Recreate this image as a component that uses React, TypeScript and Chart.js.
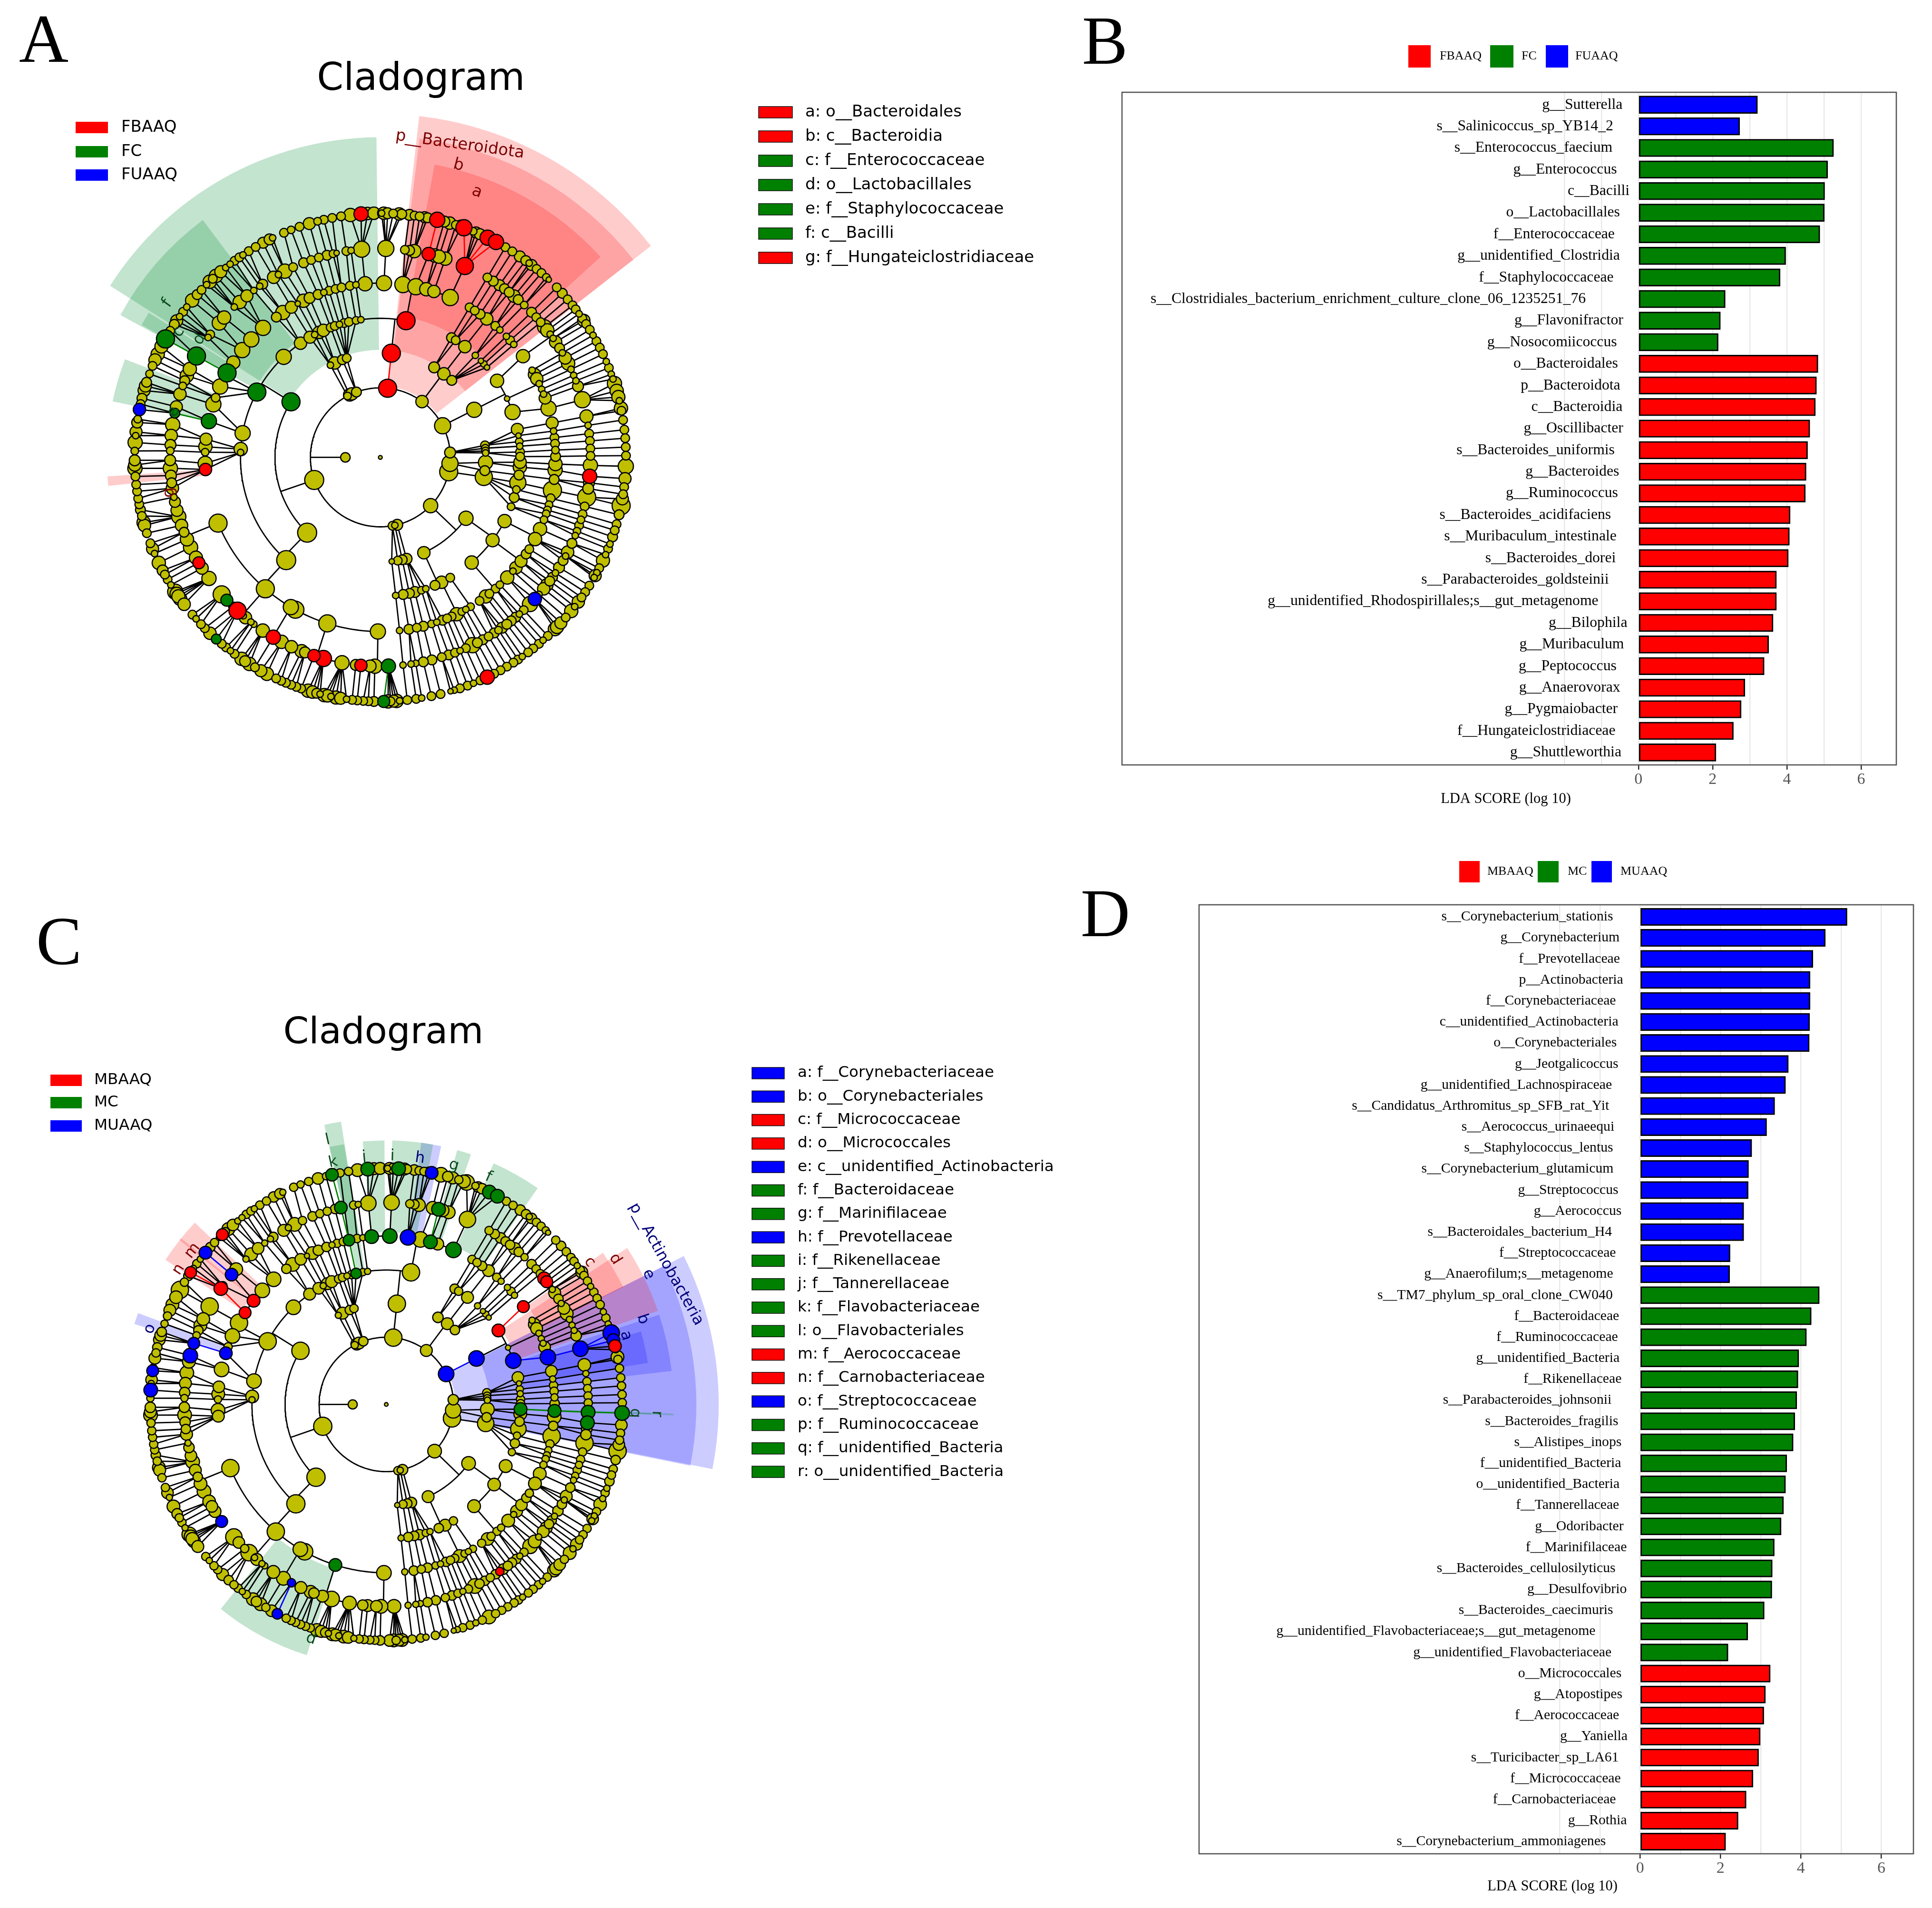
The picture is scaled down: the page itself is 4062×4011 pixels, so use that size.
import React, { useEffect, useRef } from "react";
import { Chart, registerables } from "chart.js";

Chart.register(...registerables);

// ---------- LDA bar data ----------
const bLabels = ["g__Sutterella","s__Salinicoccus_sp_YB14_2","s__Enterococcus_faecium","g__Enterococcus","c__Bacilli","o__Lactobacillales","f__Enterococcaceae","g__unidentified_Clostridia","f__Staphylococcaceae","s__Clostridiales_bacterium_enrichment_culture_clone_06_1235251_76","g__Flavonifractor","g__Nosocomiicoccus","o__Bacteroidales","p__Bacteroidota","c__Bacteroidia","g__Oscillibacter","s__Bacteroides_uniformis","g__Bacteroides","g__Ruminococcus","s__Bacteroides_acidifaciens","s__Muribaculum_intestinale","s__Bacteroides_dorei","s__Parabacteroides_goldsteinii","g__unidentified_Rhodospirillales;s__gut_metagenome","g__Bilophila","g__Muribaculum","g__Peptococcus","g__Anaerovorax","g__Pygmaiobacter","f__Hungateiclostridiaceae","g__Shuttleworthia"];
const bValues = [3.21,2.73,5.26,5.10,5.02,5.01,4.89,3.97,3.82,2.34,2.21,2.15,4.84,4.80,4.77,4.62,4.56,4.52,4.50,4.09,4.07,4.04,3.72,3.72,3.63,3.51,3.39,2.87,2.77,2.56,2.09];
const bGaps = [.43,.68,.70,.58,.24,.50,.64,.50,.67,1.42,.41,.58,.55,.49,.43,.41,.64,.52,.55,.74,.59,.61,.80,1.08,.30,.39,.59,.49,.56,.62,.46];
const bCounts = [2, 10, 19];
const bLegend = ["FBAAQ", "FC", "FUAAQ"];

const dLabels = ["s__Corynebacterium_stationis","g__Corynebacterium","f__Prevotellaceae","p__Actinobacteria","f__Corynebacteriaceae","c__unidentified_Actinobacteria","o__Corynebacteriales","g__Jeotgalicoccus","g__unidentified_Lachnospiraceae","s__Candidatus_Arthromitus_sp_SFB_rat_Yit","s__Aerococcus_urinaeequi","s__Staphylococcus_lentus","s__Corynebacterium_glutamicum","g__Streptococcus","g__Aerococcus","s__Bacteroidales_bacterium_H4","f__Streptococcaceae","g__Anaerofilum;s__metagenome","s__TM7_phylum_sp_oral_clone_CW040","f__Bacteroidaceae","f__Ruminococcaceae","g__unidentified_Bacteria","f__Rikenellaceae","s__Parabacteroides_johnsonii","s__Bacteroides_fragilis","s__Alistipes_inops","f__unidentified_Bacteria","o__unidentified_Bacteria","f__Tannerellaceae","g__Odoribacter","f__Marinifilaceae","s__Bacteroides_cellulosilyticus","g__Desulfovibrio","s__Bacteroides_caecimuris","g__unidentified_Flavobacteriaceae;s__gut_metagenome","g__unidentified_Flavobacteriaceae","o__Micrococcales","g__Atopostipes","f__Aerococcaceae","g__Yaniella","s__Turicibacter_sp_LA61","f__Micrococcaceae","f__Carnobacteriaceae","g__Rothia","s__Corynebacterium_ammoniagenes"];
const dValues = [5.15,4.61,4.30,4.23,4.23,4.22,4.21,3.69,3.62,3.35,3.15,2.78,2.70,2.69,2.58,2.58,2.24,2.23,4.46,4.26,4.14,3.95,3.93,3.90,3.85,3.81,3.65,3.62,3.57,3.51,3.34,3.29,3.28,3.09,2.68,2.19,3.24,3.12,3.08,2.99,2.95,2.81,2.64,2.44,2.13];
const dGaps = [.67,.51,.50,.42,.60,.54,.58,.54,.70,.77,.64,.67,.66,.54,.46,.70,.60,.67,.68,.52,.55,.51,.46,.71,.54,.46,.47,.51,.52,.41,.33,.61,.33,.67,1.11,.71,.46,.44,.52,.31,.53,.48,.60,.33,.85];
const dCounts = [18, 18, 9];
const dLegend = ["MBAAQ", "MC", "MUAAQ"];

// ---------- taxonomy tree: angle (deg clockwise from top), node radius ----------
const ring1 = [6,19, 36.6,13, 63,17, 86,10, 95,17, 102,19, 134,15, 166,10, 168,6, 170,8, 251,20, 332,7, 334,13, 336,13, 340,9];
const ring2 = [6,19, 30.7,10, 37.1,13, 42.7,9, 63,16, 83.4,8, 85,7, 86.5,7, 87.6,6, 92.8,15, 97.3,9, 100.8,18, 125.6,15, 155.6,13, 165.6,10, 168,9, 170.5,8, 173.8,5, 224,20, 302,19, 331.7,6, 334.4,13, 338.9,9, 341.4,8];
const ring3 = [10.6,19, 30.6,9, 32.6,8, 37.2,13, 42.8,6, 46,5, 47.8,6, 49.7,5, 56.6,14, 65,5, 71,16, 78.4,11, 81,5, 83.5,7, 85.4,6, 87.8,8, 89.7,8, 92,13, 94,14, 97.3,9, 100.5,17, 103.4,7, 106.8,9, 110.8,7, 117.3,14, 126.6,12, 139.2,14, 150,8, 154,13, 157,9, 161,6, 162.9,7, 165.7,10, 168,9, 170.6,9, 173.7,6, 222.3,20, 272,6, 273.4,14, 280,16, 298,19, 316.3,16, 325.2,13, 329.8,11, 332,6, 334,13, 336,13, 339.2,8, 341,8, 343,6, 345,8, 347,8, 350,7, 352,6];
const ring4 = [1.2,16, 7.4,17, 11.7,17, 15.2,14, 17.8,13, 23.5,17, 30.6,8, 32.6,8, 34.7,9, 37.4,13, 41,8, 43,6, 46,6, 47.8,8, 49.6,6, 54.5,14, 60,6, 61.6,13, 63.2,13, 65,6, 67,6, 68.7,6, 70.1,11, 73.7,16, 78.6,11, 81.3,6, 83.5,8, 85.5,8, 87.6,7, 89.7,9, 92.2,14, 94.2,15, 97.3,9, 100.9,19, 103.6,8, 105.8,7, 107.6,7, 108.9,7, 111,7, 114.3,14, 118,14, 121.8,8, 123.7,9, 126.6,11, 129.3,13, 130.8,6, 133.6,14, 137,7, 138.9,8, 141.5,8, 143,12, 145.5,8, 149,7, 150.8,6, 152.3,7, 154.2,14, 156,8, 157.6,8, 159.2,9, 161.2,6, 163,7, 165.8,9, 168,8, 170.6,9, 173.7,6, 180.8,16, 197.6,18, 209,18, 210.7,16, 221,19, 247.8,19, 266,13, 268,15, 271.7,7, 273.5,14, 276,11, 282,16, 287.7,16, 290,8, 294,16, 299,19, 303,12, 308,16, 312.6,16, 318,16, 323.6,9, 326.2,15, 329.5,11, 331.9,5, 334,14, 336.2,10, 339.2,9, 341.2,6, 343,8, 345.2,8, 347.2,8, 350,8, 352,6, 355,15];
const ring5 = [1.5,17, 6.7,8, 8,9, 9.3,14, 13.3,14, 15,14, 16.2,12, 18,14, 23.7,18, 30.6,8, 32.5,9, 34.5,10, 36.2,9, 37.8,9, 39.5,13, 41,9, 43.2,7, 46,9, 47.9,8, 49.7,8, 51.4,15, 52.6,14, 53.9,6, 55.3,6, 56.5,13, 58.5,9, 60,6, 61.6,13, 63.3,14, 65.1,6, 66.9,6, 68.5,6, 70.1,10, 74,17, 78.7,12, 81.2,6, 83.5,8, 85.5,8, 87.6,8, 89.6,8, 92.2,15, 95.2,15, 97,10, 98.6,10, 101,19, 103.6,8, 105.8,8, 107.4,7, 109,8, 110.7,7, 112,6, 114.3,9, 117,13, 118.2,6, 119.6,9, 121.8,10, 123.6,6, 125,9, 126.3,9, 127.6,13, 129,13, 131,6, 132.7,14, 134.6,16, 137,8, 138.6,6, 139.9,9, 141.5,9, 143,9, 144.6,10, 145.8,7, 147.2,9, 149,8, 150.8,9, 152.5,9, 154,16, 156,8, 157.7,6, 159.2,8, 161,9, 163,8, 165.8,9, 168.2,9, 170.3,6, 171.6,6, 173.8,6, 177.8,15, 181.5,15, 182.8,11, 185.3,13, 186.7,10, 190.5,15, 195.7,17, 198.4,13, 201,10, 202,12, 205,13, 208,14, 210.6,15, 214,14, 217,6, 218,6, 219.9,13, 220.7,6, 222.8,18, 224.5,8, 226.9,11, 229,18, 234.6,15, 238,13, 239.7,11, 241.3,12, 244.5,15, 246.9,14, 249,9, 251,13, 253.5,15, 255.3,11, 257.7,10, 259,6, 261.5,13, 263,9, 265,10, 267,15, 269.2,10, 271.8,7, 273.4,10, 276,13, 279,15, 282.2,14, 284,11, 287.6,13, 290,7, 291.5,9, 293,14, 295,14, 299,19, 305,6, 306,8, 310,15, 312,14, 316,6, 318,14, 320.6,11, 323,6, 325,6, 326,9, 329.5,13, 331,6, 333,15, 335.5,8, 338.6,9, 340.8,8, 343,8, 345.3,9, 347,7, 348,5, 350.7,8, 352,6, 354.9,17];
const ring6 = [6.8,10, 8,8, 9.2,8, 10.4,10, 11.1,9, 13.4,16, 15.1,10, 16.4,13, 17.9,8, 19.2,14, 19.9,17, 22.2,7, 22.9,10, 23.9,10, 25.9,16, 28.1,16, 30.6,8, 32.5,8, 34.6,10, 36.3,9, 37.3,6, 38,10, 39.5,8, 41,8, 42.5,7, 43.3,5, 45.9,8, 47.8,9, 49.7,8, 51.5,8, 52.7,8, 54,6, 55.3,8, 55.9,13, 56.9,8, 58.5,8, 60,6, 61.6,8, 63.3,8, 65,8, 66.9,6, 68.5,8, 70.1,6, 71.3,6, 72.4,15, 74.2,14, 75.7,12, 76.6,6, 78.4,14, 79,8, 81.2,8, 83.5,8, 85.5,8, 87.6,8, 89.6,8, 92.1,16, 95,11, 97,8, 98.7,8, 99.8,11, 101.4,19, 103.6,9, 105.9,8, 107.4,8, 109,9, 110.8,6, 112,8, 113.5,6, 115,12, 117,8, 118.2,6, 119,11, 119.5,6, 121.7,8, 123.5,8, 125,8, 126.3,13, 127.7,6, 129,14, 131,8, 132.7,11, 134,12, 134.7,14, 137,8, 138.5,6, 139.8,8, 141.5,8, 143,8, 144.7,6, 145.9,8, 147.2,8, 149,8, 150.7,8, 152.4,8, 154.2,15, 156,8, 157.7,6, 159.2,8, 161.1,8, 162.5,6, 163.4,5, 165.8,8, 168,8, 170.3,6, 171.6,8, 173.7,8, 175.5,6, 176.2,14, 176.9,11, 177.6,8, 178.2,14, 179.2,11, 181.5,9, 182.8,8, 184,8, 185.4,8, 186.6,8, 187.9,6, 189.3,11, 190.4,12, 191.6,6, 192.4,13, 193.2,14, 194.2,6, 195,9, 196,13, 197.1,14, 198.8,8, 200,8, 201.3,8, 202.6,8, 203.8,8, 205.1,8, 207.5,12, 209.1,11, 210.7,8, 212.2,14, 213.4,10, 214.4,14, 216.4,8, 217.6,6, 218.9,8, 220.2,8, 221.9,9, 223.9,13, 225.6,8, 226.9,8, 228.6,6, 229.9,8, 233,13, 234.6,14, 235.3,12, 236,14, 236.6,16, 238.5,6, 240,8, 241.3,8, 242.4,10, 244.4,14, 246.8,6, 248,11, 249.4,8, 251.9,8, 253.8,13, 254.5,14, 256.1,8, 257.6,9, 258.9,8, 260.3,8, 262,8, 263.6,8, 265.5,8, 267.4,15, 268.2,13, 269.3,10, 271.5,7, 273.5,15, 275.1,6, 276,11, 278.2,10, 279,7, 281.3,13, 282.6,8, 284,9, 285.9,11, 287,11, 287.9,9, 290,7, 292,8, 293.5,13, 295,14, 297,12, 299,19, 301.2,8, 303,9, 304,11, 305.2,6, 306.6,8, 308,6, 310,14, 311.8,9, 313.3,8, 315,6, 316,14, 317,8, 318,14, 319.5,11, 321,6, 322.3,6, 323.6,8, 325,8, 326,6, 327.6,8, 329.5,8, 331.5,10, 333.2,10, 334,6, 336.9,8, 338.7,7, 340.8,8, 343.2,11, 345.2,7, 346.7,8, 348.7,8, 350.8,8, 353,14, 355.5,15, 357,13, 358.5,13, 0.3,6, 0.8,13, 1.7,10, 3,8, 4.4,13, 5,9];

// [child ring, parent angle, from, to]: children on a shared arc
const treeArcs = [[2,36.6,30.7,42.7],[2,134,125.6,155.6],[2,251,224,302],[3,224,222.3,271.9],[3,302,272,325.2],[3,6,352,10.6],[3,63,56.6,71],[3,125.6,117.3,139.2],[3,155.6,150,157],[4,222.3,180.8,247.8],[4,298,299,318],[4,10.6,7.4,23.5],[4,352,352,1.2],[4,65,60,70.1],[4,117.3,114.3,123.7],[4,126.6,126.6,133.6],[4,139.2,137,145.5],[4,154,150.8,157.6],[5,54.5,51.4,58.5],[5,180.8,177.8,186.7],[5,197.6,190.5,205],[5,210.7,208,214],[5,221,217,229],[5,247.8,234.6,259]];
// [child ring, parent angle, from, to]: children fanned out from one parent
const treeFans = [[6,354.9,352.5,358.9],[6,1.5,359.5,5.5],[6,23.7,19.5,28.5],[6,74,72.3,76.7],[6,78.7,78.3,79.1],[6,101,99.5,101.5],[6,114.3,113.4,115.1],[6,118.2,118.1,119.6],[6,132.7,132.6,134.8],[6,163,162.4,163.5],[6,177.8,175.4,179.3],[6,190.5,187.8,193.3],[6,195.7,194.9,197.2],[6,214,212.1,214.5],[6,222.8,220.1,224],[6,229,226.8,230],[6,234.6,232.9,236.7],[6,253.5,253.7,257.7]];

// [ring, angle, optional radius]: highlighted nodes
const aRed = [[1,6],[2,6],[3,10.6],[5,23.7],[5,13.3],[6,13.4],[6,19.9],[6,25.9],[6,28.1],[6,355.5],[5,95.2],[6,154.2],[5,185.3],[5,198.4],[5,195.7],[5,210.6],[5,222.8],[5,239.7],[4,266]];
const aGreen = [[2,302],[3,298],[4,299],[5,299],[6,299],[4,282],[5,282.2,9],[5,226.9],[6,221.9],[5,177.8],[6,179.2]];
const aBlue = [[6,281.3,13],[5,132.7]];
const cRed = [[6,316,13],[6,304,11],[5,305,15],[4,308,14],[4,303,13],[5,51.4,14],[5,52.6,13],[4,54.5,13],[3,56.6,14],[6,75.7,12],[5,145.8,8]];
const cGreen = [[6,346.7,12],[6,354.9,15],[6,3,15],[5,347,12],[4,347.2,11],[3,347,10],[4,355,15],[4,1.2,16],[5,15,15],[4,15.2,15],[4,23.5,17],[6,25.9,15],[6,28.1,15],[6,92.1,16],[5,92.2,15],[4,92.2,14],[3,92,14],[5,95.2,15],[4,197.6,14]];
const cBlue = [[4,7.4,17],[6,11.1,12],[6,310,14],[5,310,12],[4,287.7,12],[5,287.6,13],[5,284,16],[6,278.2,13],[6,273.5,15],[5,234.6,13],[5,208,8],[6,207.5,10],[1,63,17],[2,63,17],[3,71,17],[4,73.7,17],[5,74,17],[6,72.4,18],[6,74.2,14]];

// [colour, inner r, outer r, from, to]
const aWedges = [["r",150,722,6.5,52],["r",226,675,7,52],["r",300,626,10.5,47.7],["g",226,673,302.4,359.3],["g",300,623,298.7,323.2],["g",376,574,299,302],["g",376,575,281.8,291],["r",376,575,264,266]];
const cWedges = [["b",145,699,63.5,101.2],["b",217,652,63.5,101.4],["b",289,604,71.8,83.3],["b",362,557,74,81],["r",289,604,57,71],["r",362,556,55,63.7],["g",362,555,24,35],["g",362,555,15.6,18.7],["b",362,555,7.6,12],["g",362,555,1.3,10.2],["g",362,555,354.9,359.6],["g",362,554,347.6,350.8],["g",289,602,347.5,350.9],["r",362,555,308.5,313.5],["r",362,555,303.2,309],["b",362,556,287.7,290.2],["g",362,553,197.6,219],["g",289,604,91.8,92.2],["g",362,557,91.8,92.2]];

// [text, colour, r, angle, rotation]
const aMarks = [["p__Bacteroidota","r",696,14.2,8],["b","r",652,14.9,14.9],["a","r",609,19.9,19.9],["f","g",565,306,306],["c","g",510,302,302],["d","g",464,303.3,303.3],["e","g",454,282.5,282.5],["g","r",459,260.5,260.5]];
const cMarks = [["p__Actinobacteria","b",671,63.4,61],["e","b",627,63.6,63.6],["b","b",579,71.6,71.6],["a","b",534,74,74],["d","r",581,57.6,57.6],["c","r",532,55,55],["f","g",534,24.2,24.2],["g","g",532,15.8,15.8],["h","b",532,7.8,7.8],["i","g",532,1.4,1.4],["j","g",532,354.9,354.9],["k","g",531,347.6,347.6],["l","g",580,347.5,347.5],["m","r",530,308.4,308.4],["n","r",531,303,303],["o","b",532,287.7,287.7],["p","g",527,197.8,197.8],["q","g",533,92,92],["r","g",580,92,92]];

const aGroups = ["FBAAQ", "FC", "FUAAQ"];
const cGroups = ["MBAAQ", "MC", "MUAAQ"];
const aKey = [["a: o__Bacteroidales","r"],["b: c__Bacteroidia","r"],["c: f__Enterococcaceae","g"],["d: o__Lactobacillales","g"],["e: f__Staphylococcaceae","g"],["f: c__Bacilli","g"],["g: f__Hungateiclostridiaceae","r"]];
const cKey = [["a: f__Corynebacteriaceae","b"],["b: o__Corynebacteriales","b"],["c: f__Micrococcaceae","r"],["d: o__Micrococcales","r"],["e: c__unidentified_Actinobacteria","b"],["f: f__Bacteroidaceae","g"],["g: f__Marinifilaceae","g"],["h: f__Prevotellaceae","b"],["i: f__Rikenellaceae","g"],["j: f__Tannerellaceae","g"],["k: f__Flavobacteriaceae","g"],["l: o__Flavobacteriales","g"],["m: f__Aerococcaceae","r"],["n: f__Carnobacteriaceae","r"],["o: f__Streptococcaceae","b"],["p: f__Ruminococcaceae","g"],["q: f__unidentified_Bacteria","g"],["r: o__unidentified_Bacteria","g"]];

const COLORS: any = { r: "#ff0000", g: "#008000", b: "#0000ff", y: "#bfbf00" };
const WEDGE: any = { r: "rgba(255,0,0,0.2)", g: "rgba(0,140,50,0.235)", b: "rgba(0,0,255,0.2)" };
const MARK: any = { r: "#7d0000", g: "#0a4a1c", b: "#00007a" };
const SANS = '"DejaVu Sans"';
const SERIF = '"Liberation Serif"';
const rad = (d: number) => (d * Math.PI) / 180;
const diff = (a: number, b: number) => { const d = Math.abs(a - b) % 360; return d > 180 ? 360 - d : d; };
const within = (t: number, a: number, b: number) => a <= b ? t >= a - 0.01 && t <= b + 0.01 : t >= a - 0.01 || t <= b + 0.01;

function pairs(flat: number[], ring: number) {
  const out: any[] = [];
  for (let i = 0; i < flat.length; i += 2) out.push({ ring, t: flat[i], s: flat[i + 1], c: "y" });
  return out;
}
function nearest(list: any[], t: number) {
  let best = list[0];
  for (const n of list) if (diff(n.t, t) < diff(best.t, t)) best = n;
  return best;
}

function cladogramChart(canvas: HTMLCanvasElement, o: any) {
  const { L, T, W, H, cx, cy, k } = o;
  const R = [0, 150, 226, 300, 376, 451, 527].map((v) => v * k);
  const rings: any[][] = [[], pairs(ring1, 1), pairs(ring2, 2), pairs(ring3, 3), pairs(ring4, 4), pairs(ring5, 5), pairs(ring6, 6)];
  for (const [key, list] of [["g", o.green], ["b", o.blue], ["r", o.red]] as any[]) {
    for (const [ring, t, size] of list) {
      let n = nearest(rings[ring], t);
      if (diff(n.t, t) > 1.5) { n = { ring, t, s: size || 12, c: key }; rings[ring].push(n); }
      n.c = key;
      if (size) n.s = size;
    }
  }
  const P = (r: number, t: number) => ({ x: r * Math.sin(rad(t)), y: r * Math.cos(rad(t)) });
  const gap = { x: NaN, y: NaN };
  const edges: any = { k: [], r: [], g: [], b: [] };
  const arc = (r: number, a: number, b: number) => {
    const end = b < a ? b + 360 : b;
    for (let t = a; t < end; t += 1) edges.k.push(P(r, t));
    edges.k.push(P(r, end), gap);
  };
  arc(R[1], 0, 360);
  edges.k.push(P(75 * k, 270), P(R[1], 270), gap);
  for (const [ring, pt, a, b] of treeArcs) {
    const par = nearest(rings[ring - 1], pt);
    edges.k.push(P(R[ring - 1], par.t), P(R[ring], par.t), gap);
    arc(R[ring], a, b);
  }
  for (let ring = 2; ring <= 6; ring++) {
    for (const n of rings[ring]) {
      if (treeArcs.some((a) => a[0] === ring && within(n.t, a[2], a[3]))) continue;
      const fan = treeFans.find((f) => f[0] === ring && within(n.t, f[2], f[3]));
      const par = nearest(rings[ring - 1], fan ? fan[1] : n.t);
      const key = n.c !== "y" && par.c === n.c ? n.c : "k";
      edges[key].push(P(R[ring - 1], par.t), P(R[ring], n.t), gap);
    }
  }
  const all = rings.flat();
  const dotSize = (s: number) => (s <= 12 ? s * 1.15 : s);
  const nodeSet = (key: string) =>
    all.filter((n) => n.c === key).sort((a, b) => b.s - a.s).map((n) => ({ ...P(R[n.ring], n.t), r: dotSize(n.s) * k }));
  const yellow = nodeSet("y");
  yellow.unshift({ ...P(75 * k, 270), r: 10 * k }, { x: 0, y: 0, r: 4 * k });
  yellow.sort((a, b) => b.r - a.r);

  const lineDs = (data: any[], color: string, order: number) => ({ type: "line", data, borderColor: color, borderWidth: 2.8, pointRadius: 0, tension: 0, spanGaps: false, fill: false, order, clip: false });
  const bubDs = (data: any[], color: string, order: number) => ({ type: "bubble", data, backgroundColor: color, borderColor: "#000", borderWidth: 2.5, order, clip: false });

  const px = cx - L, py = cy - T;
  const plugin = {
    id: "clado",
    beforeDatasetsDraw(chart: any) {
      const c = chart.ctx, sx = chart.scales.x, sy = chart.scales.y;
      const x0 = sx.getPixelForValue(0), y0 = sy.getPixelForValue(0);
      for (const [col, r0, r1, a, b] of o.wedges) {
        c.fillStyle = WEDGE[col];
        c.beginPath();
        c.arc(x0, y0, r1, rad(a - 90), rad(b - 90));
        c.arc(x0, y0, r0, rad(b - 90), rad(a - 90), true);
        c.closePath();
        c.fill();
      }
    },
    afterDraw(chart: any) {
      const c = chart.ctx, sx = chart.scales.x, sy = chart.scales.y;
      c.save();
      c.textBaseline = "middle";
      c.textAlign = "center";
      c.fillStyle = "#000";
      c.font = `${o.titleSize}px ${SANS}`;
      c.fillText("Cladogram", o.titleX - L, o.titleY - T);
      c.font = `${o.textSize}px ${SANS}`;
      for (const [text, col, r, t, rot] of o.marks) {
        const p = P(r, t);
        c.save();
        c.translate(sx.getPixelForValue(p.x), sy.getPixelForValue(p.y));
        c.rotate(rad(rot));
        c.fillStyle = MARK[col];
        c.fillText(text, 0, 0);
        c.restore();
      }
      c.textAlign = "left";
      o.groups.forEach((g: string, i: number) => {
        const y = o.leg.y[i] - T;
        c.fillStyle = COLORS["rgb"[i]];
        c.fillRect(o.leg.x0 - L, y - 12, o.leg.x1 - o.leg.x0, 24);
        c.fillStyle = "#000";
        c.fillText(g, o.leg.tx - L, y);
      });
      o.key.forEach(([text, col]: any, i: number) => {
        const y = o.keyLeg.y0 + i * o.keyLeg.dy - T;
        c.fillStyle = COLORS[col];
        c.fillRect(o.keyLeg.x0 - L, y - 12, o.keyLeg.x1 - o.keyLeg.x0, 24);
        c.strokeStyle = "#111";
        c.lineWidth = 1.5;
        c.strokeRect(o.keyLeg.x0 - L, y - 12, o.keyLeg.x1 - o.keyLeg.x0, 24);
        c.fillStyle = "#000";
        c.fillText(text, o.keyLeg.tx - L, y);
      });
      c.textBaseline = "alphabetic";
      c.font = `144px ${SERIF}`;
      c.fillText(o.letter, o.letterX - L, o.letterY - T);
      c.restore();
    },
  };
  return new Chart(canvas, {
    type: "bubble",
    data: {
      datasets: [
        lineDs(edges.k, "#000", 9), lineDs(edges.r, "#ff0000", 8), lineDs(edges.g, "#008000", 7), lineDs(edges.b, "#0000ff", 6),
        bubDs(yellow, COLORS.y, 5), bubDs(nodeSet("g"), COLORS.g, 4), bubDs(nodeSet("b"), COLORS.b, 3), bubDs(nodeSet("r"), COLORS.r, 2),
      ],
    } as any,
    options: {
      animation: false, responsive: false, devicePixelRatio: 1, events: [],
      plugins: { legend: { display: false }, tooltip: { enabled: false } },
      layout: { padding: 0 },
      scales: {
        x: { type: "linear", display: false, min: -px, max: W - px },
        y: { type: "linear", display: false, min: py - H, max: py },
      },
    } as any,
    plugins: [plugin],
  });
}

function barChart(canvas: HTMLCanvasElement, o: any) {
  const { L, T, W, H } = o;
  const order = ["b", "g", "r"];
  const colors: string[] = [];
  o.counts.forEach((n: number, i: number) => { for (let j = 0; j < n; j++) colors.push(COLORS[order[i]]); });
  const n = o.values.length;
  const plugin = {
    id: "lda",
    afterDatasetsDraw(chart: any) {
      const c = chart.ctx, sx = chart.scales.x, sy = chart.scales.y, a = chart.chartArea;
      c.save();
      c.strokeStyle = "#555";
      c.lineWidth = 2.6;
      c.strokeRect(a.left, a.top, a.right - a.left, a.bottom - a.top);
      c.textBaseline = "middle";
      c.textAlign = "right";
      c.fillStyle = "#000";
      c.font = `${o.fontSize}px ${SERIF}`;
      o.labels.forEach((t: string, i: number) => c.fillText(t, sx.getPixelForValue(-o.gaps[i]), sy.getPixelForValue(i)));
      c.textAlign = "center";
      c.font = `30.5px ${SERIF}`;
      c.fillText("LDA SCORE (log 10)", o.axisTitle[0] - L, o.axisTitle[1] - T);
      c.textAlign = "left";
      c.font = `26px ${SERIF}`;
      o.legend.forEach((g: string, i: number) => {
        const [x0, x1, tx] = o.legX[i];
        c.fillStyle = COLORS["rgb"[i]];
        c.fillRect(x0 - L, o.legY[0] - T, x1 - x0, o.legY[1] - o.legY[0]);
        c.fillStyle = "#000";
        c.fillText(g, tx - L, (o.legY[0] + o.legY[1]) / 2 - T);
      });
      c.textBaseline = "alphabetic";
      c.font = `144px ${SERIF}`;
      c.fillText(o.letter, o.letterX - L, o.letterY - T);
      c.restore();
    },
  };
  const ax = o.box;
  return new Chart(canvas, {
    type: "bar",
    data: {
      datasets: [{
        data: o.values.map((v: number, i: number) => ({ x: v, y: i })),
        backgroundColor: colors, borderColor: "#000", borderWidth: 3, borderSkipped: false,
        barThickness: o.barH,
      }],
    },
    options: {
      animation: false, responsive: false, devicePixelRatio: 1, events: [], indexAxis: "y",
      plugins: { legend: { display: false }, tooltip: { enabled: false } },
      layout: { padding: { left: ax[0] - L, right: L + W - ax[1], top: ax[2] - T, bottom: T + H - ax[3] - 60 } },
      scales: {
        y: { type: "linear", display: false, reverse: true, offset: false, min: -0.577, max: n - 1 + 0.577 },
        x: {
          type: "linear", min: o.xr[0], max: o.xr[1],
          afterFit: (s: any) => { s.height = 60; },
          border: { display: false },
          grid: {
            color: (c: any) => (c.tick && c.tick.value >= -2 && c.tick.value <= 6 && Number.isInteger(c.tick.value) ? "#e8e8e8" : "transparent"),
            tickColor: (c: any) => (c.tick && [0, 2, 4, 6].includes(c.tick.value) ? "#222" : "transparent"),
            lineWidth: 2.4, tickLength: 10, tickWidth: 2.4,
          },
          ticks: {
            stepSize: 1, includeBounds: false, autoSkip: false, maxRotation: 0, minRotation: 0, padding: 1, color: "#555",
            font: { family: "Liberation Serif", size: 34 },
            callback: (v: any) => ([0, 2, 4, 6].includes(v) ? String(v) : ""),
          },
        },
      },
    } as any,
    plugins: [plugin],
  });
}

const frames = {
  a: { L: 0, T: 0, W: 2250, H: 1730 },
  c: { L: 0, T: 1730, W: 2250, H: 2281 },
  b: { L: 2250, T: 0, W: 1812, H: 1760 },
  d: { L: 2250, T: 1760, W: 1812, H: 2251 },
};

export default function App() {
  const aRef = useRef<HTMLCanvasElement>(null);
  const bRef = useRef<HTMLCanvasElement>(null);
  const cRef = useRef<HTMLCanvasElement>(null);
  const dRef = useRef<HTMLCanvasElement>(null);
  useEffect(() => {
    const charts = [
      cladogramChart(aRef.current!, { ...frames.a, cx: 793, cy: 964, k: 1, red: aRed, green: aGreen, blue: aBlue, wedges: aWedges, marks: aMarks, groups: aGroups, key: aKey, titleSize: 80, textSize: 34, titleX: 885, titleY: 168, leg: { x0: 159, x1: 227, tx: 255, y: [268, 319, 368] }, keyLeg: { x0: 1595, x1: 1666, tx: 1693, y0: 236, dy: 51 }, letter: "A", letterX: 40, letterY: 130 }),
      cladogramChart(cRef.current!, { ...frames.c, cx: 806, cy: 2954, k: 0.96, red: cRed, green: cGreen, blue: cBlue, wedges: cWedges, marks: cMarks, groups: cGroups, key: cKey, titleSize: 77, textSize: 32.6, titleX: 806, titleY: 2173, leg: { x0: 106, x1: 172, tx: 198, y: [2271, 2318, 2367] }, keyLeg: { x0: 1581, x1: 1649, tx: 1677, y0: 2256, dy: 49.3 }, letter: "C", letterX: 76, letterY: 2027 }),
      barChart(bRef.current!, { ...frames.b, labels: bLabels, values: bValues, gaps: bGaps, counts: bCounts, legend: bLegend, fontSize: 31.7, barH: 37, box: [2359, 3987, 194, 1608], xr: [-13.92, 6.95], axisTitle: [3166, 1680], legX: [[2961, 3008, 3027], [3133, 3182, 3199], [3250, 3297, 3312]], legY: [95, 142], letter: "B", letterX: 2275, letterY: 134 }),
      barChart(dRef.current!, { ...frames.d, labels: dLabels, values: dValues, gaps: dGaps, counts: dCounts, legend: dLegend, fontSize: 29.7, barH: 36.5, box: [2521, 4023, 1902, 3897], xr: [-10.97, 6.8], axisTitle: [3264, 3966], legX: [[3068, 3111, 3127], [3233, 3277, 3296], [3346, 3389, 3407]], legY: [1810, 1855], letter: "D", letterX: 2272, letterY: 1968 }),
    ];
    return () => charts.forEach((c) => c.destroy());
  }, []);
  const style = (f: any): React.CSSProperties => ({ position: "absolute", left: f.L, top: f.T, width: f.W, height: f.H, display: "block" });
  return (
    <div style={{ position: "absolute", left: 0, top: 0, width: 4062, height: 4011, background: "#fff", overflow: "hidden" }}>
      <canvas ref={aRef} width={frames.a.W} height={frames.a.H} style={style(frames.a)} />
      <canvas ref={cRef} width={frames.c.W} height={frames.c.H} style={style(frames.c)} />
      <canvas ref={bRef} width={frames.b.W} height={frames.b.H} style={style(frames.b)} />
      <canvas ref={dRef} width={frames.d.W} height={frames.d.H} style={style(frames.d)} />
    </div>
  );
}
